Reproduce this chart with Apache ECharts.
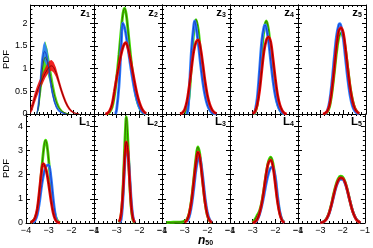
<!DOCTYPE html>
<html><head><meta charset="utf-8">
<script src="https://cdn.jsdelivr.net/npm/echarts@6/dist/echarts.min.js"></script>
<style>html,body{margin:0;padding:0;background:#fff}#c{width:373px;height:248px}</style>
</head><body><div id="c"></div>
<script>
// ---------- axis ticks / labels ----------
const X_TICKS = [-4, -3, -2, -1];
const TOP_Y_TICKS = [0, 0.5, 1, 1.5, 2];
const BOT_Y_TICKS = [0, 1, 2, 3, 4];
const ROW_LETTERS = ['z', 'L'];
const PANEL_SUBS = ['1', '2', '3', '4', '5'];
const Y_NAME = 'PDF';
const X_NAME_MAIN = 'n';
const X_NAME_SUB = '50';

// ---------- z1 bands [x, lo, hi] ----------
const z1_blue_band = [[-3.7,0,0.05],[-3.6,0.1,0.5],[-3.5,0.6,1.2],[-3.4,1.05,1.52],[-3.33,1.18,1.6],[-3.2,1.0,1.42],[-3.1,0.72,1.06],[-3.0,0.45,0.7],[-2.9,0.26,0.43],[-2.8,0.13,0.25],[-2.7,0.06,0.14],[-2.6,0.03,0.08],[-2.5,0.01,0.04],[-2.4,0,0.02],[-2.3,0,0]];
const z1_green_band = [[-3.7,0,0.02],[-3.6,0.08,0.35],[-3.5,0.45,0.95],[-3.4,0.8,1.45],[-3.3,0.95,1.6],[-3.2,0.9,1.45],[-3.1,0.72,1.2],[-3.0,0.48,0.92],[-2.9,0.28,0.65],[-2.8,0.16,0.42],[-2.7,0.09,0.26],[-2.6,0.05,0.15],[-2.5,0.03,0.08],[-2.4,0.01,0.04],[-2.3,0,0.02],[-2.2,0,0.01]];
const z1_red_band = [[-4,0,0.13],[-3.9,0.08,0.3],[-3.8,0.23,0.46],[-3.7,0.37,0.6],[-3.6,0.49,0.72],[-3.5,0.59,0.82],[-3.4,0.69,0.92],[-3.3,0.79,1.02],[-3.2,0.87,1.11],[-3.1,0.93,1.17],[-3.0,0.95,1.19],[-2.9,0.91,1.14],[-2.8,0.82,1.03],[-2.7,0.68,0.87],[-2.6,0.53,0.7],[-2.5,0.39,0.54],[-2.4,0.27,0.4],[-2.3,0.17,0.28],[-2.2,0.1,0.18],[-2.1,0.05,0.11],[-2.0,0.02,0.06],[-1.9,0.01,0.03],[-1.8,0,0.015],[-1.7,0,0]];

// ---------- centre curves [x, pdf] ----------
const z1_blue = [[-3.7,0],[-3.6,0.25],[-3.5,0.9],[-3.4,1.28],[-3.33,1.38],[-3.2,1.2],[-3.1,0.88],[-3.0,0.56],[-2.9,0.33],[-2.8,0.18],[-2.7,0.1],[-2.6,0.05],[-2.5,0.03],[-2.4,0.01],[-2.3,0]];
const z1_green = [[-3.7,0],[-3.6,0.2],[-3.5,0.7],[-3.4,1.1],[-3.3,1.25],[-3.2,1.15],[-3.1,0.95],[-3.0,0.7],[-2.9,0.48],[-2.8,0.3],[-2.7,0.18],[-2.6,0.1],[-2.5,0.06],[-2.4,0.03],[-2.3,0.015],[-2.2,0.005]];
const z1_red = [[-4,0.05],[-3.9,0.18],[-3.8,0.34],[-3.7,0.48],[-3.6,0.6],[-3.5,0.7],[-3.4,0.8],[-3.3,0.9],[-3.2,0.98],[-3.1,1.04],[-3.0,1.06],[-2.9,1.02],[-2.8,0.92],[-2.7,0.77],[-2.6,0.61],[-2.5,0.46],[-2.4,0.33],[-2.3,0.22],[-2.2,0.14],[-2.1,0.08],[-2.0,0.04],[-1.9,0.02],[-1.8,0.01],[-1.7,0]];

const z2_blue = [[-3.05,0],[-3.0,0.1],[-2.9,0.6],[-2.8,1.5],[-2.73,2.0],[-2.65,1.9],[-2.6,1.78],[-2.5,1.45],[-2.4,1.1],[-2.3,0.78],[-2.2,0.5],[-2.1,0.3],[-2.0,0.15],[-1.9,0.06],[-1.8,0.02],[-1.7,0]];
const z2_green = [[-3.4,0],[-3.3,0.05],[-3.2,0.15],[-3.1,0.4],[-3.0,0.8],[-2.9,1.3],[-2.8,1.85],[-2.72,2.22],[-2.65,2.33],[-2.58,2.2],[-2.5,1.85],[-2.4,1.35],[-2.3,0.9],[-2.2,0.55],[-2.1,0.3],[-2.0,0.15],[-1.9,0.06],[-1.8,0.02],[-1.7,0]];
const z2_red = [[-3.5,0],[-3.4,0.02],[-3.3,0.08],[-3.2,0.22],[-3.1,0.5],[-3.0,0.8],[-2.9,1.07],[-2.8,1.32],[-2.7,1.5],[-2.6,1.57],[-2.5,1.45],[-2.4,1.22],[-2.3,0.95],[-2.2,0.68],[-2.1,0.44],[-2.0,0.26],[-1.9,0.13],[-1.8,0.05],[-1.7,0.01]];

const z3_blue = [[-2.9,0],[-2.85,0.1],[-2.8,0.5],[-2.7,1.4],[-2.6,1.95],[-2.56,2.05],[-2.5,1.92],[-2.4,1.55],[-2.3,1.1],[-2.2,0.7],[-2.1,0.4],[-2.0,0.2],[-1.9,0.09],[-1.8,0.03],[-1.7,0.01],[-1.6,0]];
const z3_green = [[-3.0,0.02],[-2.9,0.1],[-2.8,0.4],[-2.7,1.1],[-2.6,1.8],[-2.5,2.08],[-2.4,1.85],[-2.3,1.35],[-2.2,0.85],[-2.1,0.48],[-2.0,0.25],[-1.9,0.11],[-1.8,0.04],[-1.7,0.01]];
const z3_red = [[-3.2,0],[-3.1,0.03],[-3.0,0.1],[-2.9,0.28],[-2.8,0.6],[-2.7,1.0],[-2.6,1.38],[-2.5,1.58],[-2.4,1.63],[-2.3,1.45],[-2.2,1.1],[-2.1,0.72],[-2.0,0.42],[-1.9,0.22],[-1.8,0.1],[-1.7,0.04],[-1.6,0.01]];

const z4_blue = [[-2.95,0],[-2.9,0.05],[-2.8,0.35],[-2.7,0.95],[-2.6,1.6],[-2.5,1.92],[-2.45,1.96],[-2.4,1.9],[-2.3,1.6],[-2.2,1.15],[-2.1,0.72],[-2.0,0.4],[-1.9,0.2],[-1.8,0.08],[-1.7,0.03],[-1.6,0]];
const z4_green = [[-2.95,0],[-2.9,0.02],[-2.8,0.2],[-2.7,0.7],[-2.6,1.35],[-2.5,1.85],[-2.4,2.05],[-2.3,1.85],[-2.2,1.35],[-2.1,0.85],[-2.0,0.47],[-1.9,0.22],[-1.8,0.09],[-1.7,0.03],[-1.6,0]];
const z4_red = [[-3.0,0.01],[-2.9,0.05],[-2.8,0.2],[-2.7,0.5],[-2.6,0.95],[-2.5,1.38],[-2.4,1.62],[-2.3,1.7],[-2.2,1.58],[-2.1,1.2],[-2.0,0.78],[-1.9,0.42],[-1.8,0.2],[-1.7,0.08],[-1.6,0.02],[-1.5,0]];

const z5_blue = [[-2.8,0],[-2.7,0.08],[-2.6,0.3],[-2.5,0.72],[-2.4,1.25],[-2.3,1.72],[-2.2,1.97],[-2.15,1.99],[-2.1,1.93],[-2.0,1.65],[-1.9,1.2],[-1.8,0.75],[-1.7,0.4],[-1.6,0.18],[-1.5,0.07],[-1.4,0.02],[-1.3,0]];
const z5_green = [[-2.8,0.01],[-2.7,0.05],[-2.6,0.18],[-2.5,0.48],[-2.4,0.9],[-2.3,1.35],[-2.2,1.68],[-2.1,1.78],[-2.0,1.7],[-1.9,1.4],[-1.8,1.0],[-1.7,0.6],[-1.6,0.32],[-1.5,0.14],[-1.4,0.05],[-1.3,0.01]];
const z5_red = [[-2.9,0],[-2.8,0.02],[-2.7,0.07],[-2.6,0.22],[-2.5,0.55],[-2.4,1.0],[-2.3,1.5],[-2.2,1.83],[-2.1,1.9],[-2.0,1.78],[-1.9,1.42],[-1.8,0.98],[-1.7,0.58],[-1.6,0.3],[-1.5,0.13],[-1.4,0.05],[-1.3,0.01]];

const L1_blue = [[-3.7,0.02],[-3.6,0.1],[-3.5,0.35],[-3.4,0.9],[-3.3,1.6],[-3.2,2.1],[-3.1,2.35],[-3.0,2.4],[-2.9,1.9],[-2.8,1.0],[-2.7,0.3],[-2.62,0.05],[-2.55,0]];
const L1_green = [[-3.8,0.02],[-3.7,0.08],[-3.6,0.2],[-3.5,0.5],[-3.4,1.2],[-3.3,2.3],[-3.2,3.2],[-3.14,3.42],[-3.08,3.25],[-3.0,2.6],[-2.9,1.6],[-2.8,0.75],[-2.7,0.28],[-2.6,0.08],[-2.5,0.02]];
const L1_red = [[-3.8,0.02],[-3.7,0.08],[-3.6,0.22],[-3.5,0.6],[-3.4,1.4],[-3.3,2.25],[-3.25,2.45],[-3.2,2.42],[-3.1,2.15],[-3.0,1.6],[-2.9,0.95],[-2.8,0.42],[-2.7,0.13],[-2.6,0.03],[-2.5,0]];

const L2_blue = [[-2.85,0.02],[-2.8,0.15],[-2.75,0.6],[-2.7,1.4],[-2.65,2.3],[-2.6,2.95],[-2.55,3.15],[-2.5,2.9],[-2.45,2.3],[-2.4,1.55],[-2.35,0.85],[-2.3,0.38],[-2.25,0.12],[-2.2,0.03]];
const L2_green = [[-2.9,0.03],[-2.85,0.12],[-2.8,0.35],[-2.75,0.9],[-2.7,1.9],[-2.65,3.1],[-2.6,4.15],[-2.58,4.38],[-2.55,4.2],[-2.5,3.3],[-2.45,2.2],[-2.4,1.2],[-2.35,0.55],[-2.3,0.2],[-2.25,0.06],[-2.2,0.01]];
const L2_red = [[-2.9,0.05],[-2.85,0.15],[-2.8,0.4],[-2.75,0.9],[-2.7,1.65],[-2.65,2.6],[-2.6,3.25],[-2.57,3.35],[-2.5,2.9],[-2.45,2.1],[-2.4,1.3],[-2.35,0.65],[-2.3,0.28],[-2.25,0.1],[-2.2,0.03]];

const L3_blue = [[-2.9,0.05],[-2.8,0.25],[-2.7,0.7],[-2.6,1.4],[-2.5,2.2],[-2.4,2.68],[-2.35,2.73],[-2.3,2.6],[-2.2,1.9],[-2.1,1.05],[-2.0,0.45],[-1.9,0.14],[-1.8,0.03]];
const L3_green = [[-3.8,0.02],[-3.5,0.03],[-3.2,0.04],[-3.1,0.05],[-3.0,0.08],[-2.9,0.15],[-2.8,0.4],[-2.7,0.95],[-2.6,1.8],[-2.5,2.7],[-2.42,3.14],[-2.35,2.95],[-2.3,2.6],[-2.2,1.7],[-2.1,0.85],[-2.0,0.32],[-1.9,0.09],[-1.8,0.02]];
const L3_red = [[-3.0,0.03],[-2.9,0.12],[-2.8,0.38],[-2.7,0.9],[-2.6,1.7],[-2.5,2.5],[-2.42,2.93],[-2.35,2.8],[-2.3,2.5],[-2.2,1.65],[-2.1,0.85],[-2.0,0.33],[-1.9,0.1],[-1.8,0.02]];

const L4_blue = [[-2.9,0.03],[-2.8,0.12],[-2.7,0.35],[-2.6,0.7],[-2.5,1.15],[-2.4,1.65],[-2.3,2.05],[-2.2,2.28],[-2.12,2.31],[-2.0,1.9],[-1.9,1.1],[-1.8,0.45],[-1.7,0.12],[-1.6,0.02]];
const L4_green = [[-3.0,0.02],[-2.9,0.15],[-2.8,0.32],[-2.7,0.5],[-2.6,0.85],[-2.5,1.4],[-2.4,2.05],[-2.3,2.55],[-2.2,2.72],[-2.1,2.45],[-2.0,1.75],[-1.9,0.95],[-1.8,0.4],[-1.7,0.12],[-1.6,0.03]];
const L4_red = [[-3.0,0.01],[-2.9,0.05],[-2.8,0.15],[-2.7,0.4],[-2.6,0.8],[-2.5,1.4],[-2.4,2.05],[-2.3,2.5],[-2.2,2.59],[-2.1,2.3],[-2.0,1.6],[-1.9,0.85],[-1.8,0.35],[-1.7,0.1],[-1.6,0.02]];

const L5_blue = [[-3.0,0.01],[-2.9,0.03],[-2.8,0.08],[-2.7,0.19],[-2.6,0.4],[-2.5,0.72],[-2.4,1.1],[-2.3,1.45],[-2.2,1.7],[-2.1,1.8],[-2.0,1.8],[-1.9,1.66],[-1.8,1.38],[-1.7,1.02],[-1.6,0.66],[-1.5,0.37],[-1.4,0.18],[-1.3,0.07],[-1.2,0.02]];
const L5_green = [[-3.0,0.01],[-2.9,0.03],[-2.8,0.09],[-2.7,0.21],[-2.6,0.44],[-2.5,0.78],[-2.4,1.2],[-2.3,1.56],[-2.2,1.82],[-2.1,1.93],[-2.0,1.9],[-1.9,1.72],[-1.8,1.42],[-1.7,1.03],[-1.6,0.66],[-1.5,0.37],[-1.4,0.18],[-1.3,0.07],[-1.2,0.02]];
const L5_red = [[-3.0,0.01],[-2.9,0.03],[-2.8,0.08],[-2.7,0.2],[-2.6,0.42],[-2.5,0.75],[-2.4,1.15],[-2.3,1.5],[-2.2,1.75],[-2.1,1.86],[-2.0,1.85],[-1.9,1.7],[-1.8,1.4],[-1.7,1.02],[-1.6,0.65],[-1.5,0.36],[-1.4,0.17],[-1.3,0.07],[-1.2,0.02]];

// ---------- assemble ----------
const PANELS = [
  [z1_green, z1_blue, z1_red], [z2_green, z2_blue, z2_red], [z3_green, z3_blue, z3_red], [z4_green, z4_blue, z4_red], [z5_green, z5_blue, z5_red],
  [L1_green, L1_blue, L1_red], [L2_green, L2_blue, L2_red], [L3_green, L3_blue, L3_red], [L4_green, L4_blue, L4_red], [L5_green, L5_blue, L5_red]
];
const BANDS = { 0: [z1_green_band, z1_blue_band, z1_red_band] };

const COLORS = [
  { band: '#3fe000', line: '#3d6a00' },
  { band: '#2f80ff', line: '#1c3fc8' },
  { band: '#ee0a0a', line: '#8e0000' }
];
const F = 'Liberation Sans, Arial, sans-serif';
const W = 373;
const GL = 26, GW = 68, GT = 5, GH = 109;
const fmt = v => String(v).replace('-', '\u2212');

const grid = [], xAxis = [], yAxis = [], series = [], title = [];
const axisLineStyle = { color: '#000', width: 1 };

for (let r = 0; r < 2; r++) {
  for (let c = 0; c < 5; c++) {
    const gi = r * 5 + c;
    grid.push({ left: GL + GW * c, top: GT + GH * r, width: GW, height: GH });
    const xBase = {
      gridIndex: gi, type: 'value', min: X_TICKS[0], max: X_TICKS[X_TICKS.length - 1], interval: 1,
      axisLine: { show: true, onZero: false, lineStyle: axisLineStyle },
      axisTick: { show: true, inside: true, length: 4, lineStyle: axisLineStyle },
      minorTick: { show: true, splitNumber: 5, length: 2, lineStyle: axisLineStyle },
      splitLine: { show: false }
    };
    xAxis.push(Object.assign({}, xBase, { position: 'bottom',
      axisLabel: { show: r === 1, formatter: fmt, fontSize: 9, fontFamily: F, color: '#000', margin: 3, showMinLabel: true, showMaxLabel: true } }));
    xAxis.push(Object.assign({}, xBase, { position: 'top', axisLabel: { show: false } }));
    const ticks = r === 0 ? TOP_Y_TICKS : BOT_Y_TICKS;
    const yBase = {
      gridIndex: gi, type: 'value', min: 0, max: r === 0 ? 2.4 : 4.5, interval: ticks[1] - ticks[0],
      axisLine: { show: true, lineStyle: axisLineStyle },
      axisTick: { show: true, inside: true, length: 4, lineStyle: axisLineStyle },
      minorTick: { show: true, splitNumber: 5, length: 2, lineStyle: axisLineStyle },
      splitLine: { show: false }
    };
    yAxis.push(Object.assign({}, yBase, { position: 'left',
      name: c === 0 ? Y_NAME : '', nameLocation: 'middle', nameGap: 15, nameRotate: 90,
      nameTextStyle: { fontSize: 9.5, fontFamily: F, color: '#000' },
      axisLabel: { show: c === 0, fontSize: 9, fontFamily: F, color: '#000', margin: 3, showMaxLabel: false, formatter: fmt } }));
    yAxis.push(Object.assign({}, yBase, { position: 'right', axisLabel: { show: false } }));

    const curves = PANELS[gi];
    const bands = BANDS[gi];
    curves.forEach((pts, k) => {
      const col = COLORS[k];
      const common = { xAxisIndex: 2 * gi, yAxisIndex: 2 * gi, silent: true, animation: false };
      if (bands) {
        const b = bands[k];
        series.push(Object.assign({}, common, {
          type: 'custom', clip: true, data: [[b[0][0], b[0][1]]], encode: { x: 0, y: 1 },
          renderItem: (params, api) => {
            const upper = b.map(p => api.coord([p[0], p[2]]));
            const lower = b.slice().reverse().map(p => api.coord([p[0], p[1]]));
            return { type: 'polygon', shape: { points: upper.concat(lower) },
              style: { fill: col.band, opacity: 0.9 } };
          }
        }));
      } else {
        series.push(Object.assign({}, common, { type: 'line', symbol: 'none', smooth: 0.35, data: pts, lineStyle: { color: col.band, width: 2.8 } }));
      }
      series.push(Object.assign({}, common, { type: 'line', symbol: 'none', smooth: 0.35, data: pts, lineStyle: { color: col.line, width: 1 } }));
    });

    title.push({
      text: '{a|' + ROW_LETTERS[r] + '}{b|' + PANEL_SUBS[c] + '}',
      right: W - (GL + GW * (c + 1)) + 4, top: GT + GH * r + 2, padding: 0,
      textStyle: { rich: {
        a: { fontSize: 11.5, fontFamily: F, color: '#000', verticalAlign: 'bottom' },
        b: { fontSize: 7, fontFamily: F, color: '#000', verticalAlign: 'bottom' }
      } }
    });
  }
}
title.push({
  text: '{n|' + X_NAME_MAIN + '}{s|' + X_NAME_SUB + '}', left: 198, top: 235, padding: 0,
  textStyle: { rich: {
    n: { fontSize: 12, fontStyle: 'italic', fontFamily: F, color: '#000', verticalAlign: 'bottom' },
    s: { fontSize: 7, fontFamily: F, color: '#000', verticalAlign: 'bottom' }
  } }
});

const chart = echarts.init(document.getElementById('c'), null, { renderer: 'canvas' });
chart.setOption({ animation: false, backgroundColor: '#fff', grid, xAxis, yAxis, series, title });
</script>
</body></html>
